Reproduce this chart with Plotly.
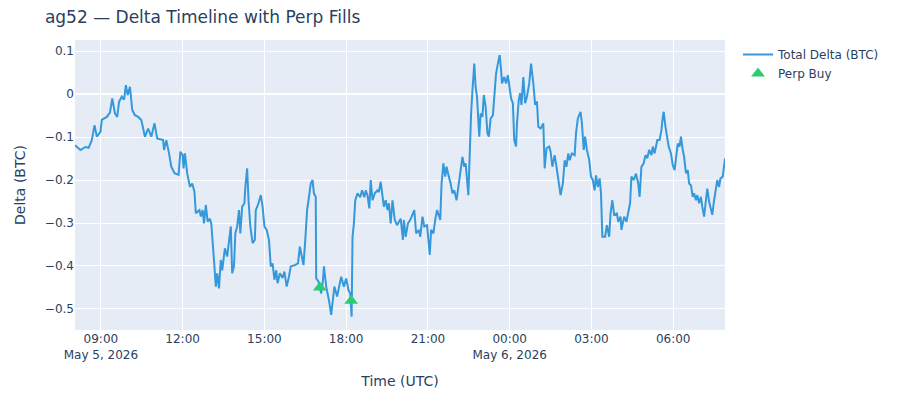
import pandas as pd
import plotly.graph_objs as go

# delta readings, May 5 (HH:MM) and May 6
times_may5 = ["08:03", "08:15", "08:26", "08:33", "08:40", "08:46", "08:51", "08:59", "09:02", "09:13",
              "09:20", "09:25", "09:31", "09:36", "09:40", "09:46", "09:51", "09:55", "09:59", "10:04",
              "10:09", "10:15", "10:22", "10:29", "10:37", "10:44", "10:51", "10:58", "11:04", "11:17",
              "11:19", "11:24", "11:30", "11:35", "11:42", "11:51", "11:55", "12:00", "12:02", "12:05",
              "12:10", "12:16", "12:21", "12:26", "12:29", "12:37", "12:40", "12:44", "12:47", "12:51",
              "12:55", "13:00", "13:03", "13:06", "13:09", "13:13", "13:16", "13:20", "13:24", "13:27",
              "13:33", "13:38", "13:42", "13:46", "13:49", "13:53", "13:56", "14:00", "14:04", "14:07",
              "14:11", "14:16", "14:18", "14:22", "14:25", "14:29", "14:34", "14:39", "14:41", "14:47",
              "14:52", "14:56", "15:00", "15:05", "15:10", "15:14", "15:18", "15:22", "15:26", "15:29",
              "15:34", "15:40", "15:44", "15:49", "15:54", "15:58", "16:07", "16:14", "16:18", "16:22",
              "16:26", "16:30", "16:34", "16:38", "16:42", "16:46", "16:49", "16:53", "16:54", "16:59",
              "17:05", "17:09", "17:11", "17:16", "17:22", "17:27", "17:31", "17:34", "17:40", "17:45",
              "17:49", "17:55", "18:00", "18:05", "18:09", "18:12", "18:14", "18:17", "18:20", "18:25",
              "18:31", "18:35", "18:40", "18:43", "18:47", "18:51", "18:54", "18:58", "19:03", "19:09",
              "19:12", "19:16", "19:20", "19:23", "19:27", "19:31", "19:34", "19:38", "19:42", "19:47",
              "19:52", "20:00", "20:05", "20:07", "20:11", "20:16", "20:21", "20:27", "20:30", "20:34",
              "20:40", "20:43", "20:48", "20:52", "20:58", "21:01", "21:04", "21:07", "21:12", "21:16",
              "21:20", "21:25", "21:27", "21:30", "21:34", "21:38", "21:41", "21:46", "21:50", "21:54",
              "21:58", "22:03", "22:08", "22:13", "22:16", "22:20", "22:23", "22:29", "22:32", "22:35",
              "22:38", "22:42", "22:45", "22:48", "22:53", "22:56", "23:00", "23:03", "23:07", "23:11",
              "23:14", "23:18", "23:23", "23:27", "23:30", "23:34", "23:38", "23:41", "23:43", "23:48",
              "23:52", "23:56", "23:59"]
delta_may5 = [-0.119, -0.130, -0.123, -0.125, -0.107, -0.072, -0.099, -0.088, -0.060, -0.053,
              -0.043, -0.010, -0.045, -0.053, -0.018, -0.006, -0.013, 0.021, -0.002, 0.017,
              -0.037, -0.049, -0.053, -0.060, -0.099, -0.080, -0.099, -0.068, -0.103, -0.107,
              -0.130, -0.107, -0.138, -0.169, -0.184, -0.188, -0.134, -0.142, -0.173, -0.138,
              -0.184, -0.216, -0.208, -0.227, -0.277, -0.270, -0.285, -0.270, -0.301, -0.258,
              -0.297, -0.290, -0.301, -0.355, -0.386, -0.448, -0.417, -0.452, -0.386, -0.410,
              -0.359, -0.378, -0.347, -0.308, -0.417, -0.401, -0.324, -0.308, -0.270, -0.324,
              -0.262, -0.254, -0.216, -0.173, -0.247, -0.308, -0.347, -0.339, -0.270, -0.254,
              -0.235, -0.262, -0.308, -0.316, -0.339, -0.401, -0.394, -0.432, -0.410, -0.440,
              -0.417, -0.428, -0.413, -0.448, -0.425, -0.401, -0.398, -0.394, -0.355, -0.378,
              -0.398, -0.339, -0.270, -0.240, -0.208, -0.200, -0.231, -0.239, -0.429, -0.436,
              -0.464, -0.432, -0.401, -0.448, -0.479, -0.514, -0.479, -0.448, -0.471, -0.448,
              -0.425, -0.448, -0.429, -0.456, -0.464, -0.518, -0.332, -0.301, -0.247, -0.231,
              -0.240, -0.224, -0.240, -0.224, -0.236, -0.266, -0.200, -0.247, -0.231, -0.224,
              -0.228, -0.204, -0.247, -0.262, -0.247, -0.270, -0.254, -0.301, -0.247, -0.293,
              -0.305, -0.290, -0.339, -0.293, -0.332, -0.301, -0.293, -0.278, -0.270, -0.324,
              -0.316, -0.332, -0.285, -0.308, -0.305, -0.339, -0.374, -0.316, -0.324, -0.293,
              -0.270, -0.285, -0.293, -0.208, -0.161, -0.192, -0.169, -0.192, -0.208, -0.231,
              -0.224, -0.247, -0.208, -0.169, -0.146, -0.169, -0.161, -0.235, -0.115, -0.045,
              0.009, 0.071, 0.016, -0.006, -0.099, -0.045, -0.053, -0.002, -0.029, -0.091,
              -0.099, -0.057, -0.049, 0.017, 0.048, 0.071, 0.091, 0.056, 0.025, 0.040,
              0.025, 0.044, 0.021]

times_may6 = ["00:03", "00:07", "00:10", "00:14", "00:16", "00:20", "00:23", "00:26", "00:30", "00:34",
              "00:38", "00:43", "00:47", "00:52", "00:56", "01:00", "01:03", "01:08", "01:14", "01:17",
              "01:21", "01:27", "01:30", "01:34", "01:39", "01:43", "01:48", "01:52", "01:57", "02:01",
              "02:05", "02:09", "02:12", "02:17", "02:23", "02:26", "02:30", "02:36", "02:39", "02:43",
              "02:46", "02:50", "02:55", "02:59", "03:03", "03:07", "03:10", "03:14", "03:18", "03:21",
              "03:24", "03:30", "03:34", "03:39", "03:42", "03:46", "03:50", "03:56", "03:59", "04:04",
              "04:06", "04:12", "04:17", "04:21", "04:25", "04:28", "04:33", "04:38", "04:43", "04:46",
              "04:50", "04:55", "04:59", "05:03", "05:07", "05:12", "05:15", "05:19", "05:25", "05:30",
              "05:34", "05:37", "05:39", "05:43", "05:47", "05:50", "05:55", "05:59", "06:03", "06:06",
              "06:10", "06:14", "06:17", "06:21", "06:24", "06:28", "06:32", "06:35", "06:39", "06:43",
              "06:46", "06:50", "06:53", "06:57", "07:01", "07:04", "07:08", "07:12", "07:15", "07:19",
              "07:23", "07:26", "07:30", "07:33", "07:37", "07:41", "07:44", "07:49", "07:54"]
delta_may6 = [-0.010, -0.021, -0.107, -0.122, -0.068, -0.014, 0.002, -0.025, 0.040, -0.021,
              -0.006, 0.025, 0.071, 0.025, -0.025, -0.017, -0.076, -0.080, -0.068, -0.173,
              -0.126, -0.122, -0.134, -0.169, -0.142, -0.169, -0.208, -0.235, -0.208, -0.154,
              -0.169, -0.138, -0.154, -0.138, -0.142, -0.091, -0.057, -0.041, -0.068, -0.130,
              -0.099, -0.130, -0.153, -0.192, -0.200, -0.224, -0.189, -0.216, -0.196, -0.231,
              -0.332, -0.332, -0.305, -0.332, -0.278, -0.247, -0.281, -0.278, -0.297, -0.285,
              -0.316, -0.285, -0.297, -0.278, -0.254, -0.192, -0.200, -0.185, -0.208, -0.239,
              -0.169, -0.161, -0.142, -0.149, -0.130, -0.142, -0.122, -0.138, -0.107, -0.107,
              -0.084, -0.053, -0.041, -0.076, -0.099, -0.122, -0.138, -0.165, -0.177, -0.146,
              -0.115, -0.122, -0.099, -0.130, -0.146, -0.184, -0.177, -0.208, -0.212, -0.239,
              -0.231, -0.247, -0.235, -0.254, -0.239, -0.262, -0.285, -0.247, -0.220, -0.250,
              -0.270, -0.281, -0.247, -0.224, -0.200, -0.216, -0.196, -0.192, -0.150]

# perp fills
fill_times = ["2026-05-05 17:02", "2026-05-05 18:11"]
fill_delta = [-0.450, -0.481]

ts = pd.to_datetime(["2026-05-05 " + t for t in times_may5] + ["2026-05-06 " + t for t in times_may6])
delta = delta_may5 + delta_may6

fig = go.Figure()
fig.add_trace(go.Scatter(x=ts, y=delta, mode="lines", name="Total Delta (BTC)",
                         line=dict(color="#3498db", width=2)))
fig.add_trace(go.Scatter(x=pd.to_datetime(fill_times), y=fill_delta, mode="markers", name="Perp Buy",
                         marker=dict(color="#2ecc71", symbol="triangle-up", size=12)))

fig.update_layout({"title": {"text": "ag52 — Delta Timeline with Perp Fills", "x": 0.041, "xanchor": "left",
                             "y": 0.978, "yanchor": "middle"},
                   "font": {"family": "Verdana, 'DejaVu Sans', sans-serif"},
                   "xaxis": {"title": "Time (UTC)"},
                   "yaxis": {"title": "Delta (BTC)", "range": [-0.549, 0.126], "dtick": 0.1},
                   "width": 900, "height": 400,
                   "margin": {"l": 60, "r": 183, "t": 32, "b": 78},
                   "showlegend": True})
fig.write_html("out.html")
